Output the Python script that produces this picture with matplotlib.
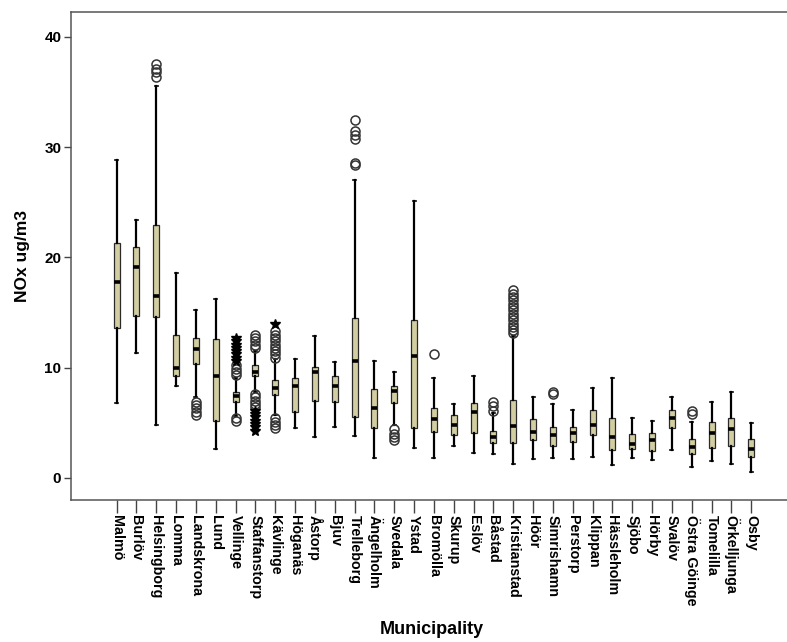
import matplotlib
matplotlib.use("Agg")
import matplotlib.pyplot as plt

names = ["Malmö", "Burlöv", "Helsingborg", "Lomma", "Landskrona", "Lund", "Vellinge",
         "Staffanstorp", "Kävlinge", "Höganäs", "Åstorp", "Bjuv", "Trelleborg", "Ängelholm",
         "Svedala", "Ystad", "Bromölla", "Skurup", "Eslöv", "Båstad", "Kristianstad", "Höör",
         "Simrishamn", "Perstorp", "Klippan", "Hässleholm", "Sjöbo", "Hörby", "Svalöv",
         "Östra Göinge", "Tomelilla", "Örkelljunga", "Osby"]

whislo = [6.8, 11.3, 4.8, 8.3, 7.3, 2.6, 5.6, 7.8, 5.7, 4.5, 3.7, 4.6, 3.8, 1.8, 4.8, 2.7, 1.8,
          2.9, 2.3, 2.2, 1.3, 1.7, 1.8, 1.7, 1.9, 1.2, 1.8, 1.6, 2.5, 1.0, 1.5, 1.3, 0.5]
q1 = [13.6, 14.7, 14.6, 9.2, 10.3, 5.2, 6.9, 9.2, 7.5, 6.0, 7.0, 6.9, 5.5, 4.5, 6.8, 4.5, 4.2,
      3.9, 4.1, 3.2, 3.2, 3.4, 2.9, 3.3, 3.9, 2.5, 2.6, 2.4, 4.5, 2.2, 2.7, 2.9, 1.9]
med = [17.8, 19.1, 16.5, 10.0, 11.7, 9.2, 7.4, 9.6, 8.2, 8.3, 9.6, 8.3, 10.6, 6.3, 7.9, 11.1, 5.3,
       4.8, 6.0, 3.7, 4.7, 4.2, 3.9, 4.1, 4.8, 3.7, 3.1, 3.4, 5.4, 2.8, 4.1, 4.4, 2.6]
q3 = [21.3, 20.9, 22.9, 13.0, 12.7, 12.6, 7.8, 10.2, 8.9, 9.1, 10.1, 9.2, 14.5, 8.1, 8.3, 14.3, 6.3,
      5.7, 6.8, 4.3, 7.1, 5.3, 4.6, 4.6, 6.2, 5.4, 4.0, 4.1, 6.2, 3.5, 5.1, 5.4, 3.5]
whishi = [28.8, 23.4, 35.5, 18.6, 15.2, 16.2, 9.1, 11.5, 10.8, 10.8, 12.9, 10.5, 27.0, 10.6, 9.6,
          25.1, 9.1, 6.7, 9.2, 5.9, 12.9, 7.3, 6.7, 6.2, 8.2, 9.1, 5.4, 5.2, 7.3, 5.1, 6.9, 7.8, 5.0]

# outliers (circles) per municipality
outliers = {
    "Helsingborg": [36.4, 36.8, 37.1, 37.5],
    "Landskrona": [6.9, 6.6, 6.3, 6.0, 5.7],
    "Vellinge": [9.3, 9.6, 9.9, 10.2, 5.4, 5.2],
    "Staffanstorp": [11.8, 12.1, 12.4, 12.7, 13.0, 7.6, 7.3, 7.0, 6.7, 6.4],
    "Kävlinge": [10.9, 11.2, 11.5, 11.8, 12.1, 12.4, 12.7, 13.0, 13.3, 5.4, 5.1, 4.8, 4.5],
    "Trelleborg": [28.4, 28.6, 30.7, 31.1, 31.5, 32.5],
    "Svedala": [4.4, 4.0, 3.7, 3.4],
    "Bromölla": [11.2],
    "Båstad": [6.1, 6.5, 6.9],
    "Kristianstad": [13.1, 13.4, 13.7, 14.0, 14.3, 14.6, 14.9, 15.2, 15.5, 15.8, 16.1, 16.4, 16.7, 17.0],
    "Simrishamn": [7.6, 7.8],
    "Östra Göinge": [5.8, 6.1],
}
# extremes (stars)
extremes = {
    "Vellinge": [10.6, 10.9, 11.2, 11.5, 11.8, 12.1, 12.4, 12.7],
    "Staffanstorp": [6.1, 5.8, 5.5, 5.2, 4.9, 4.6, 4.3],
    "Kävlinge": [14.0],
}

stats = []
for i, n in enumerate(names):
    stats.append(dict(label=n, whislo=whislo[i], q1=q1[i], med=med[i], q3=q3[i],
                      whishi=whishi[i], fliers=outliers.get(n, [])))

fig = plt.figure(figsize=(7.87, 6.42), dpi=100)
ax = fig.add_axes([71 / 787, 1 - 500 / 642, 1 - 71 / 787, (500 - 12) / 642])

pos = list(range(len(names)))
ax.bxp(stats, positions=pos, widths=0.3, patch_artist=True, capwidths=0.15,
       boxprops=dict(facecolor="#d3cea2", edgecolor="#2a2a2a", linewidth=0.9),
       medianprops=dict(color="black", linewidth=2.6),
       whiskerprops=dict(color="black", linewidth=1.6),
       capprops=dict(color="black", linewidth=1.2),
       flierprops=dict(marker="o", markerfacecolor="none", markeredgecolor="#333333",
                       markersize=6.5, markeredgewidth=1.1, linestyle="none"))

for n, vals in extremes.items():
    i = names.index(n)
    ax.plot([pos[i]] * len(vals), vals, linestyle="none", marker="*", markersize=7,
            markerfacecolor="black", markeredgecolor="black")

ax.set_xlim(-2.3, 33 + 0.8)
ax.set_ylim(-2.0, 42.25)
ax.set_yticks([0, 10, 20, 30, 40])
ax.set_xticks(pos)
ax.set_xticklabels(names, rotation=-90, ha="center", va="top",
                   fontfamily="Liberation Sans", fontweight="bold", fontsize=10.3)
for lab in ax.get_yticklabels():
    lab.set_fontfamily("Liberation Sans")
    lab.set_fontweight("bold")
    lab.set_fontsize(11)

ax.tick_params(axis="x", direction="out", length=9, width=1, color="#444444", pad=2)
ax.tick_params(axis="y", direction="out", length=5, width=1, color="#444444", pad=2)
for s in ["left", "top", "bottom"]:
    ax.spines[s].set_color("#555555")
    ax.spines[s].set_linewidth(1.1)
ax.spines["right"].set_visible(False)

ax.set_ylabel("NOx ug/m3", fontfamily="Liberation Sans", fontweight="bold", fontsize=12.5, labelpad=10)
fig.text(432 / 787, 1 - 630 / 642, "Municipality", ha="center", va="center",
         fontfamily="Liberation Sans", fontweight="bold", fontsize=13)

fig.savefig("out.png", dpi=100)
